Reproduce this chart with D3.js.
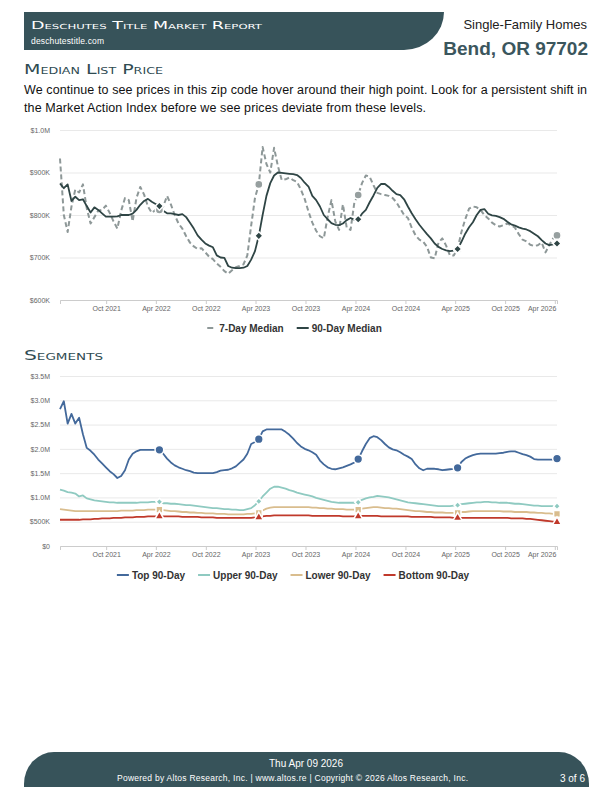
<!DOCTYPE html>
<html lang="en">
<head>
<meta charset="UTF-8">
<title>Bend, OR 97702 - Market Report</title>
<script src="https://d3js.org/d3.v7.min.js"></script>
<style>
  body { margin: 0; background: #fff; font-family: "Liberation Sans", Arial, sans-serif; }
  .tick text { font-family: "Liberation Sans", Arial, sans-serif; font-size: 7px; fill: #666; }
  .grid line { stroke: #e9e9e9; }
  .legend text { font-size: 10px; font-weight: bold; fill: #333; }
  .caps { font-family: "DejaVu Sans", sans-serif; font-variant: small-caps; }
</style>
</head>
<body>
<svg id="page" width="612" height="792"></svg>
<script>
// ---- data ----
// samples every 14 days, ending Apr 9 2026
const endDate = new Date(2026, 3, 9);
const dates = d3.range(131).map(i => d3.timeDay.offset(endDate, -(130 - i) * 14));
const markerIdx = [26, 52, 78, 104, 130];

const xTickDates = ["2021-10-01", "2022-04-01", "2022-10-01", "2023-04-01", "2023-10-01",
  "2024-04-01", "2024-10-01", "2025-04-01", "2025-10-01", "2026-04-01"];

// Median list price, $K
const sevenDay = [
  933, 800, 760, 820, 860, 853, 872, 816, 780, 795,
  810, 812, 822, 805, 785, 768, 810, 840, 835, 785,
  840, 866, 848, 820, 805, 812, 812, 820, 845, 825,
  800, 780, 768, 750, 735, 726, 720, 722, 712, 702,
  696, 686, 678, 668, 662, 670, 677, 680, 684, 705,
  775, 840, 872, 960, 920, 900, 958, 915, 882, 884,
  888, 882, 878, 860, 838, 808, 782, 763, 750, 745,
  795, 835, 785, 765, 825, 770, 765, 830, 847, 875,
  893, 890, 870, 852, 849, 847, 845, 840, 830, 815,
  800, 793, 770, 752, 742, 737, 725, 700, 698, 735,
  745, 728, 705, 705, 720, 760, 790, 815, 820, 818,
  812, 800, 792, 782, 776, 773, 776, 780, 776, 770,
  755, 742, 738, 730, 727, 729, 735, 712, 730, 745,
  752];
const ninetyDay = [
  874, 863, 872, 833, 843, 835, 837, 821, 806, 818,
  812, 804, 796, 796, 796, 797, 800, 800, 800, 803,
  812, 824, 833, 838, 831, 826, 821, 810, 804, 804,
  802, 800, 802, 795, 782, 768, 752, 742, 733, 728,
  724, 705, 700, 699, 680, 676, 675, 675, 676, 680,
  695, 715, 751, 800, 845, 875, 893, 900, 899, 898,
  897, 896, 894, 887, 876, 867, 845, 835, 820, 800,
  790, 781, 777, 776, 780, 788, 793, 789, 790, 803,
  812, 830, 846, 864, 873, 873, 866, 857, 849, 847,
  837, 820, 804, 790, 777, 766, 755, 745, 733, 725,
  720, 717, 715, 716, 720, 737, 756, 771, 783, 800,
  812, 814, 803, 799, 798, 795, 791, 784, 778, 775,
  771, 768, 766, 762, 756, 750, 741, 733, 729, 731,
  733];

// Segments, $M
const top90 = [
  2.82, 2.98, 2.52, 2.72, 2.52, 2.64, 2.30, 2.02, 1.96, 1.88,
  1.78, 1.70, 1.62, 1.54, 1.48, 1.40, 1.44, 1.56, 1.78, 1.90,
  1.95, 1.98, 1.98, 1.98, 1.98, 1.98, 1.98, 1.90, 1.80, 1.72,
  1.66, 1.62, 1.59, 1.56, 1.54, 1.51, 1.50, 1.50, 1.50, 1.50,
  1.50, 1.52, 1.55, 1.56, 1.57, 1.60, 1.64, 1.71, 1.78, 1.90,
  2.10, 2.14, 2.20, 2.36, 2.40, 2.40, 2.40, 2.40, 2.40, 2.35,
  2.29, 2.21, 2.12, 2.05, 2.00, 1.97, 1.93, 1.88, 1.76, 1.68,
  1.62, 1.59, 1.58, 1.60, 1.62, 1.65, 1.68, 1.72, 1.79, 1.95,
  2.10, 2.22, 2.26, 2.24, 2.18, 2.10, 2.03, 1.99, 1.97, 1.93,
  1.88, 1.84, 1.79, 1.68, 1.60, 1.56, 1.59, 1.59, 1.59, 1.58,
  1.56, 1.57, 1.58, 1.59, 1.61, 1.73, 1.80, 1.84, 1.87, 1.89,
  1.90, 1.90, 1.90, 1.90, 1.90, 1.91, 1.92, 1.94, 1.95, 1.95,
  1.92, 1.89, 1.87, 1.84, 1.79, 1.78, 1.78, 1.78, 1.78, 1.78,
  1.80];
const upper90 = [
  1.16, 1.14, 1.11, 1.10, 1.08, 1.02, 1.04, 0.98, 0.96, 0.94,
  0.93, 0.92, 0.91, 0.90, 0.90, 0.89, 0.89, 0.89, 0.89, 0.89,
  0.89, 0.90, 0.90, 0.90, 0.91, 0.91, 0.91, 0.88, 0.88, 0.87,
  0.87, 0.86, 0.85, 0.84, 0.84, 0.83, 0.82, 0.81, 0.80, 0.79,
  0.78, 0.78, 0.77, 0.76, 0.76, 0.75, 0.75, 0.74, 0.74, 0.76,
  0.78, 0.84, 0.92, 1.02, 1.10, 1.18, 1.22, 1.22, 1.20, 1.18,
  1.15, 1.13, 1.10, 1.08, 1.06, 1.04, 1.02, 0.99, 0.97, 0.95,
  0.93, 0.91, 0.90, 0.89, 0.89, 0.89, 0.89, 0.89, 0.90, 0.95,
  0.98, 1.00, 1.01, 1.03, 1.02, 1.01, 1.00, 0.98, 0.96, 0.94,
  0.92, 0.90, 0.89, 0.88, 0.87, 0.86, 0.85, 0.84, 0.83, 0.82,
  0.82, 0.82, 0.82, 0.83, 0.84, 0.86, 0.87, 0.88, 0.89, 0.90,
  0.90, 0.91, 0.91, 0.90, 0.90, 0.89, 0.89, 0.89, 0.88, 0.87,
  0.87, 0.86, 0.85, 0.84, 0.83, 0.83, 0.82, 0.82, 0.82, 0.82,
  0.82];
const lower90 = [
  0.76, 0.75, 0.74, 0.73, 0.72, 0.72, 0.72, 0.72, 0.72, 0.72,
  0.72, 0.72, 0.72, 0.72, 0.72, 0.72, 0.73, 0.73, 0.73, 0.73,
  0.74, 0.74, 0.74, 0.75, 0.75, 0.75, 0.75, 0.74, 0.73, 0.72,
  0.72, 0.71, 0.70, 0.70, 0.69, 0.69, 0.68, 0.68, 0.67, 0.67,
  0.67, 0.66, 0.66, 0.66, 0.65, 0.65, 0.65, 0.65, 0.65, 0.66,
  0.66, 0.67, 0.68, 0.73, 0.77, 0.79, 0.80, 0.80, 0.80, 0.80,
  0.80, 0.80, 0.80, 0.80, 0.80, 0.80, 0.79, 0.79, 0.78, 0.78,
  0.77, 0.77, 0.76, 0.76, 0.76, 0.75, 0.75, 0.75, 0.75, 0.77,
  0.78, 0.79, 0.80, 0.80, 0.79, 0.78, 0.78, 0.77, 0.77, 0.76,
  0.75, 0.74, 0.73, 0.72, 0.72, 0.71, 0.70, 0.70, 0.69, 0.69,
  0.69, 0.68, 0.68, 0.68, 0.68, 0.70, 0.70, 0.71, 0.72, 0.72,
  0.72, 0.72, 0.72, 0.72, 0.72, 0.72, 0.71, 0.71, 0.71, 0.70,
  0.70, 0.70, 0.70, 0.69, 0.69, 0.68, 0.68, 0.67, 0.67, 0.66,
  0.66];
const bottom90 = [
  0.54, 0.54, 0.54, 0.54, 0.54, 0.54, 0.55, 0.55, 0.55, 0.56,
  0.56, 0.57, 0.57, 0.57, 0.58, 0.58, 0.58, 0.59, 0.59, 0.59,
  0.60, 0.60, 0.60, 0.61, 0.61, 0.61, 0.61, 0.61, 0.61, 0.61,
  0.61, 0.61, 0.60, 0.60, 0.60, 0.60, 0.60, 0.59, 0.59, 0.59,
  0.59, 0.58, 0.58, 0.58, 0.58, 0.58, 0.58, 0.58, 0.58, 0.58,
  0.58, 0.59, 0.59, 0.61, 0.62, 0.62, 0.63, 0.63, 0.63, 0.63,
  0.63, 0.63, 0.63, 0.63, 0.63, 0.63, 0.62, 0.62, 0.62, 0.62,
  0.62, 0.62, 0.62, 0.62, 0.61, 0.61, 0.61, 0.61, 0.61, 0.62,
  0.62, 0.62, 0.62, 0.62, 0.61, 0.61, 0.61, 0.61, 0.61, 0.61,
  0.61, 0.61, 0.60, 0.60, 0.60, 0.60, 0.60, 0.60, 0.59, 0.59,
  0.59, 0.59, 0.59, 0.58, 0.58, 0.58, 0.58, 0.58, 0.58, 0.58,
  0.58, 0.58, 0.58, 0.58, 0.58, 0.58, 0.58, 0.58, 0.57, 0.57,
  0.57, 0.57, 0.56, 0.56, 0.55, 0.54, 0.53, 0.52, 0.51, 0.50,
  0.49];

const priceTicks = [600, 700, 800, 900, 1000];
const segTicks = [0, 0.5, 1.0, 1.5, 2.0, 2.5, 3.0, 3.5];

// ---- page ----
const svg = d3.select("#page");
const teal = "#37535a";
const X0 = 60, X1 = 557;
const x = d3.scaleTime().domain([dates[0], dates[dates.length - 1]]).range([X0, X1]);
const parseDay = d3.timeParse("%Y-%m-%d");
const fmtMonth = d3.timeFormat("%b %Y");

// header band
svg.append("path")
  .attr("d", "M24,12 H444 A40,38 0 0 1 404,50 H24 Z")
  .attr("fill", teal);
svg.append("text").attr("class", "caps")
  .attr("x", 31).attr("y", 29).attr("fill", "#fff")
  .attr("font-size", 10.5).attr("textLength", 231).attr("lengthAdjust", "spacingAndGlyphs")
  .text("Deschutes Title Market Report");
svg.append("text")
  .attr("x", 31).attr("y", 43.5).attr("fill", "#fff")
  .attr("font-size", 8.5).attr("textLength", 73)
  .text("deschutestitle.com");
svg.append("text")
  .attr("x", 587).attr("y", 28.5).attr("text-anchor", "end")
  .attr("font-size", 13).attr("fill", "#222")
  .text("Single-Family Homes");
svg.append("text")
  .attr("x", 588).attr("y", 55).attr("text-anchor", "end")
  .attr("font-size", 19).attr("font-weight", "bold").attr("fill", "#3b565d")
  .text("Bend, OR 97702");

// section headings + copy
function heading(label, yPos, len) {
  svg.append("text").attr("class", "caps")
    .attr("x", 24).attr("y", yPos).attr("fill", "#2f4b52")
    .attr("font-size", 13.5).attr("textLength", len).attr("lengthAdjust", "spacingAndGlyphs")
    .text(label);
}
heading("Median List Price", 74, 139);
svg.append("text").attr("x", 24).attr("y", 93.5).attr("font-size", 12.5).attr("fill", "#111")
  .attr("textLength", 563)
  .text("We continue to see prices in this zip code hover around their high point. Look for a persistent shift in");
svg.append("text").attr("x", 24).attr("y", 111.5).attr("font-size", 12.5).attr("fill", "#111")
  .attr("textLength", 402)
  .text("the Market Action Index before we see prices deviate from these levels.");
heading("Segments", 360, 79);

// ---- charts ----
function drawChart(top, bottom, yDomain, yTicks, yFmt, series) {
  const y = d3.scaleLinear().domain(yDomain).range([bottom, top]);
  const g = svg.append("g");

  g.append("g").attr("class", "grid")
    .attr("transform", `translate(${X0},0)`)
    .call(d3.axisLeft(y).tickValues(yTicks).tickSize(-(X1 - X0)).tickPadding(10).tickFormat(yFmt))
    .call(a => a.select(".domain").remove());

  const xa = g.append("g")
    .attr("transform", `translate(0,${bottom})`)
    .call(d3.axisBottom(x).tickValues(xTickDates.map(parseDay)).tickSize(4).tickPadding(2).tickFormat(fmtMonth));
  xa.select(".domain").attr("stroke", "#ccc");
  xa.selectAll(".tick line").attr("stroke", "#ccc");
  xa.selectAll(".tick text").filter((d, i, n) => i === n.length - 1)
    .attr("text-anchor", "end").attr("dx", 1);

  const line = d3.line().x((d, i) => x(dates[i])).y(d => y(d));
  series.forEach(s => {
    g.append("path").datum(s.values)
      .attr("fill", "none")
      .attr("stroke", s.color)
      .attr("stroke-width", s.width)
      .attr("stroke-dasharray", s.dash || null)
      .attr("stroke-linejoin", "round")
      .attr("d", line);
  });
  series.forEach(s => {
    g.selectAll(null).data(markerIdx).join("path")
      .attr("transform", i => `translate(${x(dates[i])},${y(s.values[i])}) rotate(${s.rotate || 0})`)
      .attr("d", d3.symbol(s.symbol, s.size)())
      .attr("fill", s.markerColor || s.color)
      .attr("stroke", "#fff")
      .attr("stroke-width", 1.5);
  });
}

function legend(yPos, items) {
  const g = svg.append("g").attr("class", "legend");
  let cx = 0;
  items.forEach(it => {
    const ig = g.append("g").attr("transform", `translate(${cx},0)`);
    ig.append("line").attr("x1", 0).attr("x2", 12).attr("y1", yPos).attr("y2", yPos)
      .attr("stroke", it.color).attr("stroke-width", 2)
      .attr("stroke-dasharray", it.dash || null);
    const t = ig.append("text").attr("x", 15).attr("y", yPos + 3.5).text(it.label);
    cx += 15 + t.node().getComputedTextLength() + 13;
  });
  const total = cx - 13;
  g.attr("transform", `translate(${293 - total / 2},0)`);
}

drawChart(130, 300, [600, 1000], priceTicks,
  v => v >= 1000 ? "$" + (v / 1000).toFixed(1) + "M" : "$" + v + "K",
  [
    { values: sevenDay, color: "#8e9898", width: 2, dash: "5,3", symbol: d3.symbolCircle, size: 52, markerColor: "#969f9f" },
    { values: ninetyDay, color: "#2f4545", width: 1.8, symbol: d3.symbolSquare, size: 34, rotate: 45 }
  ]);
legend(328, [
  { label: "7-Day Median", color: "#8e9898", dash: "0,3,6,3" },
  { label: "90-Day Median", color: "#2f4545" }
]);

drawChart(376, 546, [0, 3.5], segTicks,
  v => v === 0 ? "$0" : v < 1 ? "$" + Math.round(v * 1000) + "K" : "$" + v.toFixed(1) + "M",
  [
    { values: top90, color: "#43699b", width: 1.8, symbol: d3.symbolCircle, size: 60 },
    { values: upper90, color: "#8fcac1", width: 1.8, symbol: d3.symbolSquare, size: 24, rotate: 45 },
    { values: lower90, color: "#d9bd8e", width: 1.8, symbol: d3.symbolSquare, size: 46 },
    { values: bottom90, color: "#c0392b", width: 1.8, symbol: d3.symbolTriangle, size: 36 }
  ]);
legend(575, [
  { label: "Top 90-Day", color: "#43699b" },
  { label: "Upper 90-Day", color: "#8fcac1" },
  { label: "Lower 90-Day", color: "#d9bd8e" },
  { label: "Bottom 90-Day", color: "#c0392b" }
]);

// footer band
svg.append("path")
  .attr("d", "M24,787 V784 A30,32 0 0 1 54,752 H559 A30,32 0 0 1 589,784 V787 Z")
  .attr("fill", teal);
svg.append("text").attr("x", 306).attr("y", 766.5).attr("text-anchor", "middle")
  .attr("font-size", 10).attr("fill", "#fff").text("Thu Apr 09 2026");
svg.append("text").attr("x", 292.5).attr("y", 781).attr("text-anchor", "middle")
  .attr("font-size", 8.5).attr("fill", "#fff").attr("textLength", 351)
  .text("Powered by Altos Research, Inc. | www.altos.re | Copyright \u00A9 2026 Altos Research, Inc.");
svg.append("text").attr("x", 585).attr("y", 781.5).attr("text-anchor", "end")
  .attr("font-size", 10).attr("fill", "#fff").text("3 of 6");
</script>
</body>
</html>
